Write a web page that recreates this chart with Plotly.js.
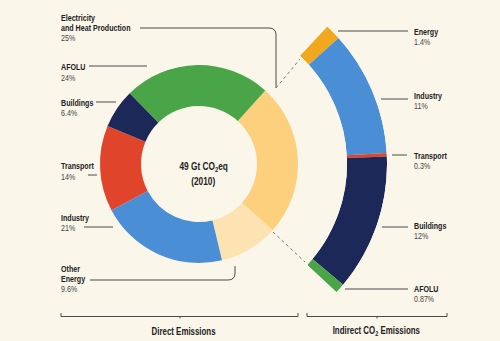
<!DOCTYPE html>
<html>
<head>
<meta charset="utf-8">
<script src="https://cdn.plot.ly/plotly-3.0.1.min.js"></script>
<style>
  html, body { margin: 0; padding: 0; background: #fbf6ea; }
  #chart { width: 500px; height: 341px; }
</style>
</head>
<body>
<div id="chart"></div>
<script>
// ---- Data ----
const directLabels = ['Electricity and Heat Production', 'Other Energy', 'Industry', 'Transport', 'Buildings', 'AFOLU'];
const directValues = [25, 9.6, 21, 14, 6.4, 24];
const directColors = ['#fcd07c', '#fde2b2', '#4a8fd6', '#e0452c', '#1c2958', '#4aa548'];

const indirectLabels = ['Energy', 'Industry', 'Transport', 'Buildings', 'AFOLU'];
const indirectValues = [1.4, 11, 0.3, 12, 0.87];
const indirectColors = ['#f0a81e', '#4a8fd6', '#e0452c', '#1c2958', '#4aa548'];

const centerLabel = ['49 Gt CO<sub>2</sub>eq', '(2010)'];
const groupLabels = ['Direct Emissions', 'Indirect CO<sub>2</sub> Emissions'];

// ---- Layout helpers ----
const W = 500, H = 341;
const px = x => x / W;
const py = y => 1 - y / H;
const FONT = '"Liberation Sans", Arial, sans-serif';
const SQUEEZE = 0.79; // mimic the condensed typeface of the original

// main donut geometry
const cx = 199, cy = 164, R = 99;
const rotation = 42;
// indirect arc geometry
const R2 = 188, R2in = 148;
const arcStart = 43, arcSpan = 90;

// indirect bars: theta/width from data
const indSum = indirectValues.reduce((a, b) => a + b, 0);
let acc = 0;
const indTheta = [], indWidth = [], indR = [];
indirectValues.forEach(v => {
  const w = v / indSum * arcSpan;
  indTheta.push(arcStart + acc + w / 2);
  indWidth.push(w);
  indR.push(1);
  acc += w;
});

const sec0 = 90 - (arcStart + arcSpan), sec1 = 90 - arcStart;
const yTop = cy - R2 * Math.sin(sec1 * Math.PI / 180);
const yBot = cy - R2 * Math.sin(sec0 * Math.PI / 180);

const traces = [
  {
    type: 'pie',
    values: directValues,
    labels: directLabels,
    marker: { colors: directColors, line: { width: 0 } },
    sort: false,
    direction: 'clockwise',
    rotation: rotation,
    hole: 58 / 99,
    textinfo: 'none',
    hoverinfo: 'label+percent',
    showlegend: false,
    domain: { x: [px(cx - R), px(cx + R)], y: [py(cy + R), py(cy - R)] }
  },
  {
    type: 'barpolar',
    r: indR,
    theta: indTheta,
    width: indWidth,
    text: indirectLabels,
    marker: { color: indirectColors, line: { width: 0 } },
    hoverinfo: 'text',
    showlegend: false,
    subplot: 'polar'
  }
];

const annotations = [];
function addLines(x, ys, lines, anchor) {
  lines.forEach((t, i) => {
    annotations.push({
      xref: 'paper', yref: 'paper', x: px(x), y: py(ys[i]),
      xanchor: anchor || 'left', yanchor: 'middle', showarrow: false,
      text: t.bold ? '<b>' + t.s + '</b>' : t.s,
      font: { family: FONT, size: t.size || 9, color: t.bold ? '#222' : '#444' }
    });
  });
}
const B = s => ({ s, bold: true });
const N = s => ({ s, bold: false });

// left labels
addLines(59, [18, 28, 38], [B('Electricity'), B('and Heat Production'), N(directValues[0] + '%')]);
addLines(59, [67, 78], [B('AFOLU'), N(directValues[5] + '%')]);
addLines(59, [103, 113], [B('Buildings'), N(directValues[4] + '%')]);
addLines(59, [166, 177], [B('Transport'), N(directValues[3] + '%')]);
addLines(59, [218, 228], [B('Industry'), N(directValues[2] + '%')]);
addLines(59, [269, 279, 289], [B('Other'), B('Energy'), N(directValues[1] + '%')]);
// right labels
addLines(412, [32, 42], [B('Energy'), N(indirectValues[0] + '%')]);
addLines(412, [96, 106], [B('Industry'), N(indirectValues[1] + '%')]);
addLines(412, [156, 166], [B('Transport'), N(indirectValues[2] + '%')]);
addLines(412, [226, 236], [B('Buildings'), N(indirectValues[3] + '%')]);
addLines(412, [289, 299], [B('AFOLU'), N(indirectValues[4] + '%')]);
// center
addLines(203, [167, 181], [{ s: centerLabel[0], bold: true, size: 10.5 }, { s: centerLabel[1], bold: true, size: 10.5 }], 'center');
// group labels
addLines(184, [331], [{ s: groupLabels[0], bold: true, size: 10 }], 'center');
addLines(376, [331], [{ s: groupLabels[1], bold: true, size: 10 }], 'center');

const shapes = [];
const LC = '#4a4a4a';
function seg(x0, y0, x1, y1, dash) {
  shapes.push({ type: 'line', xref: 'paper', yref: 'paper', x0: px(x0), y0: py(y0), x1: px(x1), y1: py(y1),
    line: { color: dash ? '#777' : LC, width: 1, dash: dash ? 'dot' : 'solid' } });
}
function path(pts) {
  const d = pts.map(p => p[0] + ' ' + p.slice(1).map((v, i) => i % 2 === 0 ? px(v) : py(v)).join(',')).join(' ');
  shapes.push({ type: 'path', xref: 'paper', yref: 'paper', path: d, line: { color: LC, width: 1 } });
}
// leaders left
path([['M', 140, 28], ['L', 269, 28], ['Q', 276, 28, 276, 35], ['L', 276, 88]]);
seg(89, 66, 147, 66);
seg(96, 102, 116, 102);
seg(88, 175, 97, 175);
seg(84, 227, 113, 227);
path([['M', 90, 280], ['L', 228, 280], ['Q', 235, 280, 235, 273], ['L', 235, 266]]);
// leaders right
seg(338, 31, 408, 31);
seg(381, 99, 408, 99);
seg(392, 155, 407, 155);
seg(382, 227, 408, 227);
seg(345, 289, 408, 289);
// dashed connectors
seg(276, 88, 300, 59, true);
seg(273, 232, 305, 262, true);
// brackets
path([['M', 61, 313], ['L', 61, 316.5], ['L', 298, 316.5], ['L', 298, 313]]);
seg(180, 316.5, 180, 318.5);
path([['M', 307, 313], ['L', 307, 316.5], ['L', 447, 316.5], ['L', 447, 313]]);
seg(377, 316.5, 377, 318.5);

const layout = {
  width: W, height: H,
  margin: { l: 0, r: 0, t: 0, b: 0 },
  paper_bgcolor: '#fbf6ea',
  plot_bgcolor: '#fbf6ea',
  showlegend: false,
  polar: {
    domain: { x: [px(cx), px(cx + R2)], y: [py(yBot), py(yTop)] },
    sector: [sec0, sec1],
    hole: R2in / R2,
    bgcolor: 'rgba(0,0,0,0)',
    bargap: 0,
    radialaxis: { range: [0, 1], visible: false, showgrid: false },
    angularaxis: { rotation: 90, direction: 'clockwise', visible: false, showgrid: false }
  },
  annotations: annotations,
  shapes: shapes
};

Plotly.newPlot('chart', traces, layout, { displayModeBar: false, staticPlot: true }).then(gd => {
  gd.querySelectorAll('g.annotation').forEach(g => {
    const idx = +g.getAttribute('data-index');
    const ann = annotations[idx];
    const txt = g.querySelector('text.annotation-text');
    if (!txt || !ann) return;
    txt.style.transformBox = 'fill-box';
    txt.style.transformOrigin = ann.xanchor === 'left' ? 'left center' : 'center center';
    txt.style.transform = 'scaleX(' + SQUEEZE + ')';
  });
});
</script>
</body>
</html>
